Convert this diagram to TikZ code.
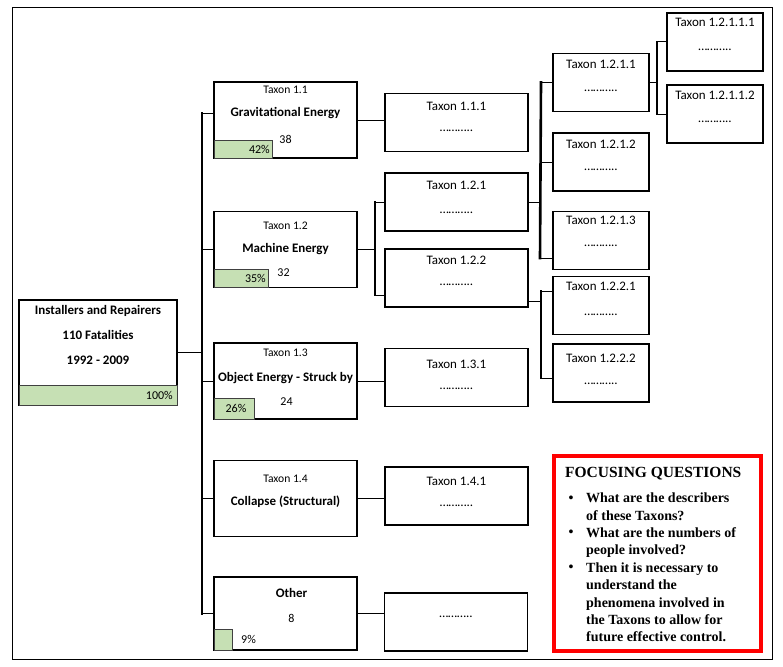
\documentclass[tikz,border=0pt]{standalone}
\usepackage{xcolor}
\usepackage{fontspec}
\setmainfont{Carlito}
\newfontfamily\qfont{Liberation Serif}
\usepackage{tikz}

\definecolor{barfill}{RGB}{198,224,180}
\tikzset{
  box/.style={draw, line width=1.3pt, inner sep=0pt, outer sep=0pt},
  lbox/.style={box, minimum width=143pt, minimum height=76pt},
  sbox/.style={box, minimum width=143pt, minimum height=58pt},
  tbox/.style={box, minimum width=96pt, minimum height=58pt},
  txt/.style={draw=none, inner sep=0pt, font=\fontsize{13}{15}\selectfont},
  stxt/.style={draw=none, inner sep=0pt, font=\fontsize{11.6}{13}\selectfont},
  ntxt/.style={draw=none, inner sep=0pt, font=\fontsize{12}{14}\selectfont},
  btxt/.style={draw=none, inner sep=0pt, font=\fontsize{13}{15}\selectfont\bfseries},
  pbar/.style={draw=black!75, line width=.7pt, fill=barfill, inner sep=0pt, outer sep=0pt, anchor=south west},
  bar/.style={line width=2.6pt, line cap=rect},
  stub/.style={line width=1pt},
  qtxt/.style={draw=none, inner sep=0pt, align=left, font=\qfont\bfseries\fontsize{14}{17.3}\selectfont}
}

\begin{document}
\begin{tikzpicture}[x=1pt, y=-1pt]
             \useasboundingbox (0,0) rectangle (783,666);
             \node[draw, line width=.8pt, inner sep=0pt, minimum width=760pt, minimum height=652pt] (frame) at (392,333) {};

             \node[box, minimum width=158pt, minimum height=105pt] (root) at (98,352.5) {};
             \node[pbar, minimum width=158pt, minimum height=20pt] (g0) at (root.south west) {};
             \node[btxt] (r1) at ([yshift=-11pt]root.north) {Installers and Repairers};
             \node[btxt] (r2) at ([yshift=-35pt]root.north) {110 Fatalities};
             \node[btxt] (r3) at ([yshift=-60pt]root.north) {1992 - 2009};
             \node[ntxt, anchor=east] (p0) at ([xshift=-4pt]g0.east) {100\%};

             \node[lbox] (t11) at (285.5,120) {};
             \node[pbar, minimum width=58pt, minimum height=18pt] (g11) at (t11.south west) {};
             \node[stxt] (t11a) at ([yshift=-8pt]t11.north) {Taxon 1.1};
             \node[btxt] (t11b) at ([yshift=-31pt]t11.north) {Gravitational Energy};
             \node[ntxt] (t11c) at ([yshift=-57pt]t11.north) {38};
             \node[ntxt, anchor=east] (p11) at ([xshift=-2pt]g11.east) {42\%};

             \node[lbox] (t12) at (285.5,249.5) {};
             \node[pbar, minimum width=54pt, minimum height=18pt] (g12) at (t12.south west) {};
             \node[stxt] (t12a) at ([yshift=-14pt]t12.north) {Taxon 1.2};
             \node[btxt] (t12b) at ([yshift=-38pt]t12.north) {Machine Energy};
             \node[ntxt] (t12c) at ([xshift=-2pt,yshift=-61pt]t12.north) {32};
             \node[ntxt, anchor=east] (p12) at ([xshift=-2pt]g12.east) {35\%};

             \node[lbox] (t13) at (285.5,381) {};
             \node[pbar, minimum width=40pt, minimum height=21pt] (g13) at (t13.south west) {};
             \node[stxt] (t13a) at ([yshift=-10pt]t13.north) {Taxon\ 1.3};
             \node[btxt] (t13b) at ([yshift=-35pt]t13.north) {Object Energy - Struck by};
             \node[ntxt] (t13c) at ([xshift=1pt,yshift=-59pt]t13.north) {24};
             \node[ntxt] (p13) at ([xshift=2pt]g13.center) {26\%};

             \node[lbox] (t14) at (285.5,498.5) {};
             \node[stxt] (t14a) at ([yshift=-18pt]t14.north) {Taxon 1.4};
             \node[btxt] (t14b) at ([yshift=-41pt]t14.north) {Collapse (Structural)};

             \node[lbox, minimum height=73pt] (oth) at (285.5,613.5) {};
             \node[pbar, minimum width=18pt, minimum height=21pt] (g15) at (oth.south west) {};
             \node[btxt] (otha) at ([xshift=6pt,yshift=-16pt]oth.north) {Other};
             \node[ntxt] (othb) at ([xshift=6pt,yshift=-41pt]oth.north) {8};
             \node[ntxt, anchor=west] (p15) at ([xshift=9pt]g15.east) {9\%};

             \node[sbox] (t111) at (456.5,122.5) {};
             \node[txt] (t111a) at ([yshift=-13pt]t111.north) {Taxon 1.1.1};
             \node[txt] (t111b) at ([yshift=-37pt]t111.north) {………..};

             \node[sbox] (t121) at (456.5,202) {};
             \node[txt] (t121a) at ([yshift=-12pt]t121.north) {Taxon 1.2.1};
             \node[txt] (t121b) at ([yshift=-40pt]t121.north) {………..};

             \node[sbox] (t122) at (456.5,278) {};
             \node[txt] (t122a) at ([yshift=-11pt]t122.north) {Taxon 1.2.2};
             \node[txt] (t122b) at ([yshift=-36pt]t122.north) {………..};

             \node[sbox] (t131) at (456.5,377.5) {};
             \node[txt] (t131a) at ([yshift=-16pt]t131.north) {Taxon 1.3.1};
             \node[txt] (t131b) at ([yshift=-40pt]t131.north) {………..};

             \node[sbox] (t141) at (456.5,496) {};
             \node[txt] (t141a) at ([yshift=-14pt]t141.north) {Taxon 1.4.1};
             \node[txt] (t141b) at ([yshift=-39pt]t141.north) {………..};

             \node[sbox] (t151) at (456,622) {};
             \node[txt] (t151a) at ([yshift=5pt]t151.center) {………..};

             \node[tbox] (t1211) at (601,82.5) {};
             \node[txt] (t1211a) at ([yshift=-11pt]t1211.north) {Taxon 1.2.1.1};
             \node[txt] (t1211b) at ([yshift=-37pt]t1211.north) {………..};

             \node[tbox] (t1212) at (601,162) {};
             \node[txt] (t1212a) at ([yshift=-11pt]t1212.north) {Taxon 1.2.1.2};
             \node[txt] (t1212b) at ([yshift=-37pt]t1212.north) {………..};

             \node[tbox] (t1213) at (601,240.5) {};
             \node[txt] (t1213a) at ([yshift=-9pt]t1213.north) {Taxon 1.2.1.3};
             \node[txt] (t1213b) at ([yshift=-34pt]t1213.north) {………..};

             \node[tbox] (t1221) at (601,305.5) {};
             \node[txt] (t1221a) at ([yshift=-10pt]t1221.north) {Taxon 1.2.2.1};
             \node[txt] (t1221b) at ([yshift=-38pt]t1221.north) {………..};

             \node[tbox] (t1222) at (601,373) {};
             \node[txt] (t1222a) at ([yshift=-14pt]t1222.north) {Taxon 1.2.2.2};
             \node[txt] (t1222b) at ([yshift=-40pt]t1222.north) {………..};

             \node[tbox] (t12111) at (715,42) {};
             \node[txt] (t12111a) at ([yshift=-9pt]t12111.north) {Taxon 1.2.1.1.1};
             \node[txt] (t12111b) at ([yshift=-37pt]t12111.north) {………..};

             \node[tbox] (t12112) at (715,114) {};
             \node[txt] (t12112a) at ([yshift=-10pt]t12112.north) {Taxon 1.2.1.1.2};
             \node[txt] (t12112b) at ([yshift=-37pt]t12112.north) {………..};

             \coordinate (j0) at (202,352.5);
             \path (t11.west -| j0) ++(0,-7) coordinate (j0t);
             \draw[stub] (root.east) -- (j0);
             \draw[bar] (j0t) -- (j0 |- oth.west);
             \draw[stub] (j0t) -- (j0t -| t11.west);
             \draw[stub] (j0 |- t12.west) -- (t12.west);
             \draw[stub] (j0 |- t13.west) -- (t13.west);
             \draw[stub] (j0 |- t14.west) -- (t14.west);
             \draw[stub] (j0 |- oth.west) -- (oth.west);

             \draw[stub] (t11.east) -- (t11.east -| t111.west);
             \draw[stub] (t13.east) -- (t13.east -| t131.west);
             \draw[stub] (t14.east) -- (t14.east -| t141.west);
             \draw[stub] (oth.east) -- (oth.east -| t151.west);

             \draw[stub] (t12.east) -- ++(18,0) coordinate (j1);
             \coordinate (j1b) at (375,295);
             \draw[bar] (j1 |- t121.west) -- (j1b);
             \draw[stub] (j1 |- t121.west) -- (t121.west);
             \draw[stub] (j1b) -- (j1b -| t122.west);

             \draw[stub] (t121.east) -- ++(13,0) coordinate (j2);
             \coordinate (j2b) at (540,258);
             \draw[bar] (j2 |- t1211.west) -- (j2b);
             \draw[stub] (j2 |- t1211.west) -- (t1211.west);
             \draw[stub] (j2 |- t1212.west) -- (t1212.west);
             \draw[stub] (j2b) -- (j2b -| t1213.west);

             \coordinate (j3) at (541,301);
             \coordinate (j3a) at (541,291);
             \coordinate (j3b) at (541,378);
             \draw[stub] (j3 -| t122.east) -- (j3);
             \draw[bar] (j3a) -- (j3b);
             \draw[stub] (j3a) -- (j3a -| t1221.west);
             \draw[stub] (j3b) -- (j3b -| t1222.west);

             \draw[stub] (t1211.east) -- ++(8,0) coordinate (j4);
             \draw[bar] (j4 |- t12111.west) -- (j4 |- t12112.west);
             \draw[stub] (j4 |- t12111.west) -- (t12111.west);
             \draw[stub] (j4 |- t12112.west) -- (t12112.west);

             \node[draw=red, line width=3.5pt, inner sep=0pt, minimum width=207pt, minimum height=195pt] (focus) at (657.5,553.5) {};
             \node[draw=none, inner sep=0pt, anchor=base west, font=\qfont\bfseries\fontsize{15.5}{18}\selectfont] (qhead) at (565,477) {FOCUSING QUESTIONS};
             \node[qtxt, anchor=north west] (q1) at (586,493) {What are the describers\\of these Taxons?};
             \node[qtxt, anchor=north west] (q2) at (586,527.5) {What are the numbers of\\people involved?};
             \node[qtxt, anchor=north west] (q3) at (586,562.5) {Then it is necessary to\\understand the\\phenomena involved in\\the Taxons to allow for\\future effective control.};
             \node[qtxt] (d1) at (571,499) {\textbullet};
             \node[qtxt] (d2) at (571,533.5) {\textbullet};
             \node[qtxt] (d3) at (571,568.5) {\textbullet};
             \end{tikzpicture}
\end{document}
